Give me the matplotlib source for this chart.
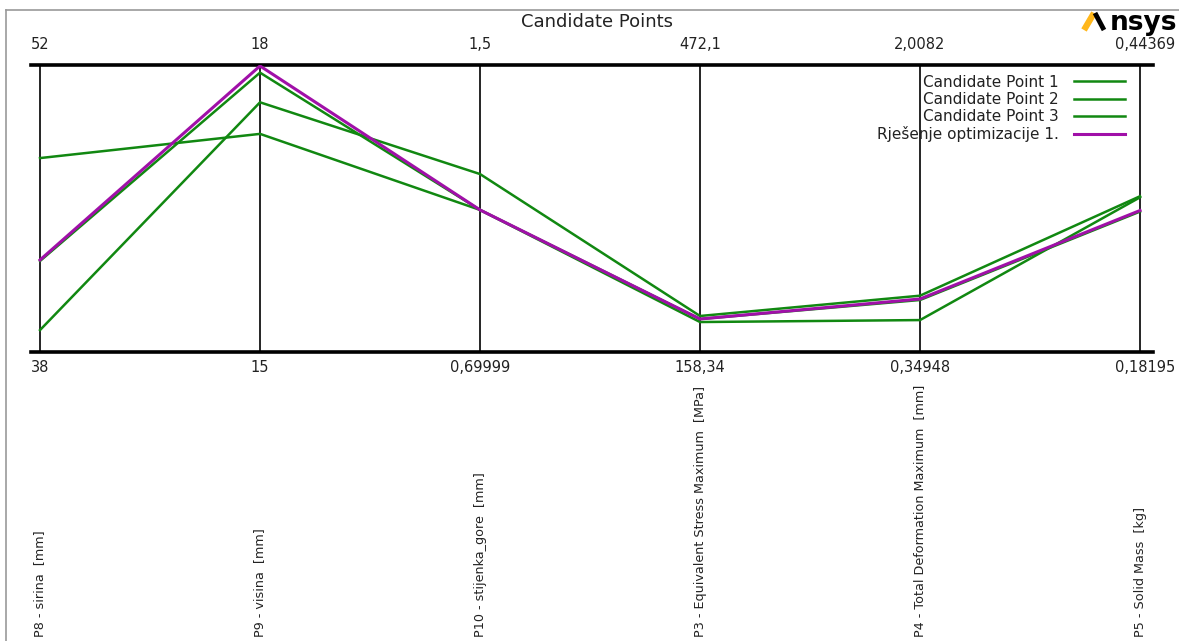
import matplotlib
matplotlib.use('Agg')
import matplotlib.pyplot as plt
from matplotlib.lines import Line2D

# parameter names and ranges (min at bottom, max at top)
axis_names = ['P8 - sirina  [mm]', 'P9 - visina  [mm]', 'P10 - stijenka_gore  [mm]',
              'P3 - Equivalent Stress Maximum  [MPa]', 'P4 - Total Deformation Maximum  [mm]',
              'P5 - Solid Mass  [kg]']
axis_min = [38, 15, 0.69999, 158.34, 0.34948, 0.18195]
axis_max = [52, 18, 1.5, 472.1, 2.0082, 0.44369]
min_labels = ['38', '15', '0,69999', '158,34', '0,34948', '0,18195']
max_labels = ['52', '18', '1,5', '472,1', '2,0082', '0,44369']

# candidate values
cp1 = [47.46, 17.28, 1.096, 191.1, 0.534, 0.323]
cp2 = [39.07, 17.61, 1.196, 197.7, 0.675, 0.324]
cp3 = [42.44, 17.92, 1.096, 194.4, 0.650, 0.310]
opt1 = [42.49, 17.99, 1.096, 194.4, 0.656, 0.311]

series = [('Candidate Point 1', cp1, '#118811'),
          ('Candidate Point 2', cp2, '#118811'),
          ('Candidate Point 3', cp3, '#118811'),
          ('Rješenje optimizacije 1.', opt1, '#a010a8')]

fig = plt.figure(figsize=(11.79, 6.41), dpi=100)
ax = fig.add_axes([31 / 1179, (641 - 352) / 641, (1153 - 31) / 1179, 287 / 641])

n = len(axis_names)
xs = list(range(n))


def norm(vals):
    return [(v - lo) / (hi - lo) for v, lo, hi in zip(vals, axis_min, axis_max)]


for label, vals, col in series:
    lw = 2.2 if col == '#a010a8' else 1.8
    ax.plot(xs, norm(vals), color=col, lw=lw, label=label, zorder=3)

for i in xs:
    ax.axvline(i, color='black', lw=1.2, zorder=2)

ax.set_xlim(-0.041, n - 1 + 0.059)
ax.set_ylim(0, 1)
ax.set_xticks([])
ax.set_yticks([])
for s in ['left', 'right']:
    ax.spines[s].set_visible(False)
for s in ['top', 'bottom']:
    ax.spines[s].set_linewidth(2.6)

tr = ax.get_xaxis_transform()
for i in xs:
    ha = 'center'
    xi = i
    if i == n - 1:
        xi = i + 0.16
        ha = 'right'
    ax.text(xi, 1.072, max_labels[i], transform=tr, ha=ha, va='center',
            fontsize=10.5, color='#222222')
    ax.text(xi, -0.055, min_labels[i], transform=tr, ha=ha, va='center',
            fontsize=10.5, color='#222222')
    ax.text(i, -0.993, axis_names[i], transform=tr, rotation=90, ha='center', va='bottom',
            fontsize=9.2, family=['DejaVu Sans Condensed', 'DejaVu Sans'],
            color='#222222', clip_on=False)

leg = ax.legend(loc='upper right', bbox_to_anchor=(0.983, 0.998), frameon=False,
                markerfirst=False, fontsize=11, handlelength=3.3, labelspacing=0.14,
                handletextpad=1.0, borderaxespad=0.2, labelcolor='#222222')
for t in leg.get_texts():
    t.set_ha('right')

# title and frame
fig.text(597 / 1179, 1 - 22 / 641, 'Candidate Points', ha='center', va='center',
         fontsize=13, color='#222222')
fig.add_artist(Line2D([6 / 1179, 1], [1 - 10 / 641, 1 - 10 / 641], color='#999999', lw=1.2))
fig.add_artist(Line2D([6 / 1179, 6 / 1179], [0, 1 - 10 / 641], color='#999999', lw=1.2))

# Ansys logo
fig.add_artist(Line2D([1084 / 1179, 1094 / 1179], [1 - 30 / 641, 1 - 13 / 641],
                      color='#ffb71b', lw=4.5, solid_capstyle='butt'))
fig.add_artist(Line2D([1095 / 1179, 1104 / 1179], [1 - 13 / 641, 1 - 30 / 641],
                      color='black', lw=3.5, solid_capstyle='butt'))
fig.text(1177 / 1179, 1 - 23 / 641, 'nsys', ha='right', va='center', fontsize=19,
         fontweight='bold', color='black')

fig.savefig('out.png', dpi=100)
